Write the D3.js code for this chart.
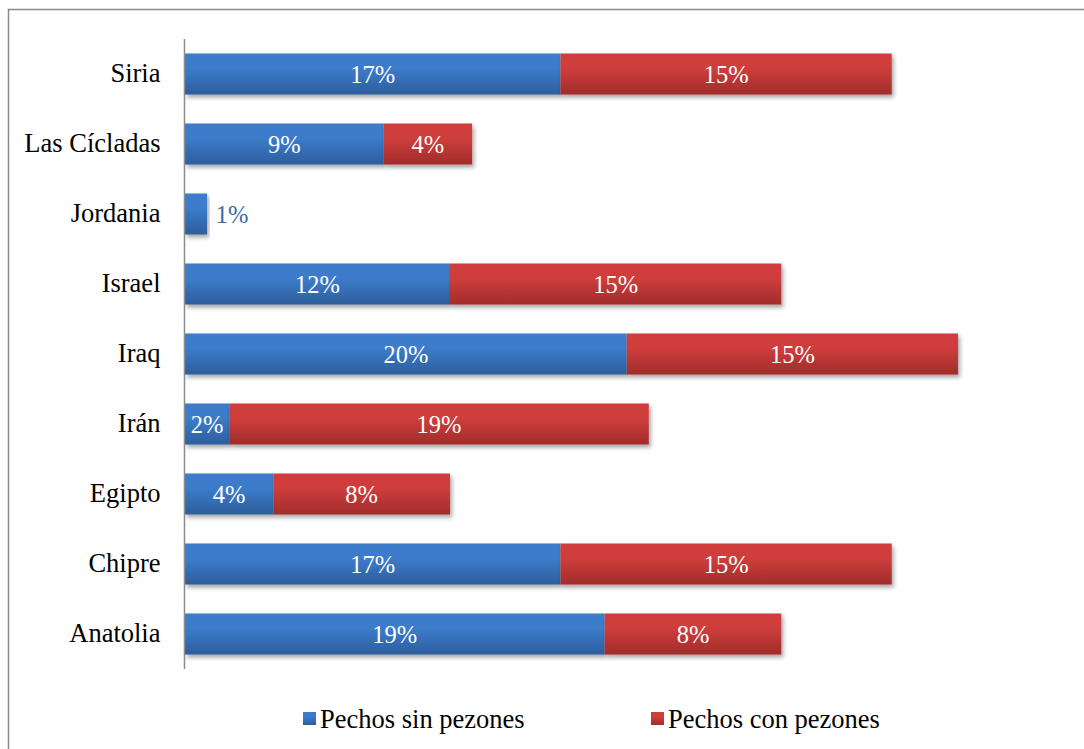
<!DOCTYPE html>
<html>
<head>
<meta charset="utf-8">
<script src="https://cdn.jsdelivr.net/npm/d3@7"></script>
<style>
  html, body { margin: 0; padding: 0; background: #fff; }
  svg text { font-family: "Liberation Serif", "Times New Roman", Tinos, "DejaVu Serif", serif !important; }
</style>
</head>
<body>
<svg id="chart" width="1084" height="749"></svg>
<script>
// Regions, listed top to bottom
const categories = ["Siria", "Las Cícladas", "Jordania", "Israel", "Iraq", "Irán", "Egipto", "Chipre", "Anatolia"];
// Percentage of figures per region
const sinPezones = [17, 9, 1, 12, 20, 2, 4, 17, 19];
const conPezones = [15, 4, 0, 15, 15, 19, 8, 15, 8];
const seriesNames = ["Pechos sin pezones", "Pechos con pezones"];

const svg = d3.select("#chart");
const defs = svg.append("defs");

// Vertical shading for each series
function gradient(id, top, bottom) {
  const g = defs.append("linearGradient").attr("id", id)
    .attr("x1", 0).attr("y1", 0).attr("x2", 0).attr("y2", 1);
  g.append("stop").attr("offset", "0%").attr("stop-color", top);
  g.append("stop").attr("offset", "35%").attr("stop-color", top);
  g.append("stop").attr("offset", "100%").attr("stop-color", bottom);
}
gradient("gBlue", "#3c7ccb", "#2d5e9c");
gradient("gRed", "#cf3e3c", "#a12c2b");

const shadow = defs.append("filter").attr("id", "shadow")
  .attr("x", "-5%").attr("y", "-20%").attr("width", "115%").attr("height", "160%");
shadow.append("feDropShadow").attr("dx", 2).attr("dy", 3)
  .attr("stdDeviation", 2).attr("flood-color", "#000").attr("flood-opacity", 0.35);

// Outer frame
svg.append("rect")
  .attr("x", 8.5).attr("y", 9.5).attr("width", 1100).attr("height", 760)
  .attr("fill", "none").attr("stroke", "#8a8a8a").attr("stroke-width", 1.5);

const x = d3.scaleLinear().domain([0, 35]).range([185, 958]);
const y = d3.scaleBand().domain(categories).range([39, 669])
  .paddingInner(0.414).paddingOuter(0.207);

const rows = categories.map((c, i) => ({ cat: c, a: sinPezones[i], b: conPezones[i] }));
const stack = d3.stack().keys(["a", "b"])(rows);
const fills = ["url(#gBlue)", "url(#gRed)"];

const barsG = svg.append("g");
stack.forEach((layer, k) => {
  barsG.append("g").attr("fill", fills[k])
    .selectAll("rect")
    .data(layer.filter(d => d[1] - d[0] > 0))
    .join("rect")
    .attr("x", d => x(d[0]))
    .attr("y", d => y(d.data.cat))
    .attr("width", d => x(d[1]) - x(d[0]))
    .attr("height", y.bandwidth())
    .attr("filter", "url(#shadow)");
});

// Value labels
const labelsG = svg.append("g").attr("font-size", 24.5).attr("text-anchor", "middle");
stack.forEach((layer, k) => {
  labelsG.selectAll(null)
    .data(layer.filter(d => d[1] - d[0] > 0))
    .join("text")
    .each(function (d) {
      const w = x(d[1]) - x(d[0]);
      const val = d[1] - d[0];
      const sel = d3.select(this)
        .attr("y", y(d.data.cat) + y.bandwidth() / 2)
        .attr("dy", "0.35em")
        .text(val + "%");
      if (w < 30) {
        sel.attr("x", x(d[1]) + 25).attr("fill", "#3b6aa5");
      } else {
        sel.attr("x", (x(d[0]) + x(d[1])) / 2).attr("fill", "#fff");
      }
    });
});

// Category axis
const yAxis = svg.append("g").attr("transform", "translate(184.5,0)")
  .call(d3.axisLeft(y).tickSize(0).tickPadding(24));
yAxis.select(".domain").attr("stroke", "#8c8c8c").attr("stroke-width", 1.5)
  .attr("d", "M0,39V669");
yAxis.selectAll("text").attr("font-size", 26.5).attr("fill", "#000");

// Legend
const legend = svg.append("g").attr("font-size", 26.5);
const legendX = [303, 651];
seriesNames.forEach((name, i) => {
  legend.append("rect")
    .attr("x", legendX[i]).attr("y", 712).attr("width", 13).attr("height", 13)
    .attr("fill", fills[i]);
  legend.append("text")
    .attr("x", legendX[i] + 17).attr("y", 719).attr("dy", "0.35em")
    .attr("fill", "#000").text(name);
});
</script>
</body>
</html>
